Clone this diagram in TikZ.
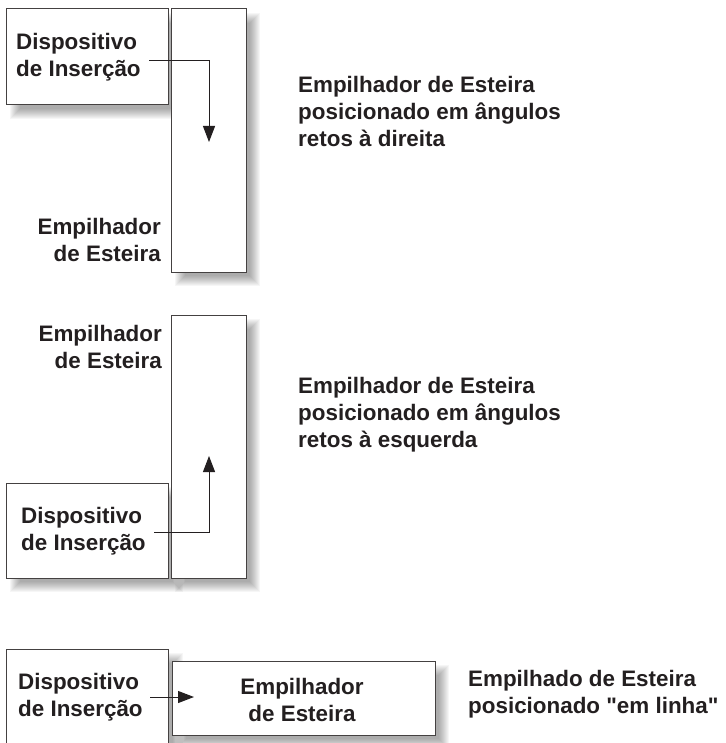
\documentclass[tikz,border=0pt]{standalone}
\usepackage{fontspec}
\newfontfamily\lblfont{Liberation Sans}
\usetikzlibrary{arrows.meta}
\definecolor{ink}{HTML}{231F20}
\newcommand{\softshadow}[4]{%
  \foreach \e in {5,4,3,2,1,0,-1,-2,-3,-4,-5}{%
    \fill[black,opacity=0.036] (#1+9-\e,#2+9-\e) rectangle (#3+9+\e,#4+9+\e);}}
\tikzset{
  boxnode/.style={draw=ink!85,line width=1pt,fill=white,anchor=north west,inner sep=0pt,outer sep=0pt},
  lbl/.style={text=ink,inner sep=0pt,font=\lblfont\fontsize{22.4}{27}\selectfont\bfseries},
  lblL/.style={lbl,align=left,anchor=west},
  lblR/.style={lbl,align=right,anchor=east},
  lblC/.style={lbl,align=center,anchor=center},
  conn/.style={draw=ink,line width=1pt,-{Triangle[length=16pt,width=12pt]}}
}
\begin{document}
\begin{tikzpicture}[x=1pt,y=-1pt]
\clip (0,0) rectangle (725,743);
\useasboundingbox (0,0) rectangle (725,743);
% shadows
\softshadow{6}{9}{169}{105}
\softshadow{171}{9}{246}{272}
\softshadow{171}{315}{246}{578}
\softshadow{6}{483}{169}{578}
\softshadow{6}{649}{169}{770}
\softshadow{172}{661}{435}{735}
% group 1
\node[boxnode,minimum width=162.5pt,minimum height=96pt] (d1) at (6.3,9) {};
\node[boxnode,minimum width=74.5pt,minimum height=263pt] (s1) at (171.5,9) {};
\node[lblL] (d1t) at (16,57.5) {Dispositivo\\de Inserção};
\node[lblR] (s1l) at (161,239.5) {Empilhador\\de Esteira};
\node[lblL] (c1) at (298,111) {Empilhador de Esteira\\posicionado em ângulos\\retos à direita};
\coordinate (a1s) at (149,61);
\coordinate (a1e) at (209,142);
\draw[conn] (a1s) -| (a1e);
% group 2
\node[boxnode,minimum width=74.5pt,minimum height=263pt] (s2) at (171.5,315) {};
\node[boxnode,minimum width=162.5pt,minimum height=95pt] (d2) at (6.3,483) {};
\node[lblR] (s2l) at (162,346.5) {Empilhador\\de Esteira};
\node[lblL] (d2t) at (21,531.5) {Dispositivo\\de Inserção};
\node[lblL] (c2) at (298,415) {Empilhador de Esteira\\posicionado em ângulos\\retos à esquerda};
\coordinate (a2s) at (154,532.5);
\coordinate (a2e) at (209,456);
\draw[conn] (a2s) -| (a2e);
% group 3
\node[boxnode,minimum width=162.5pt,minimum height=121pt] (d3) at (6.3,649) {};
\node[boxnode,minimum width=263pt,minimum height=74pt] (s3) at (172,661) {};
\node[lblL] (d3t) at (18,697.5) {Dispositivo\\de Inserção};
\node[lblC] (s3l) at (302,699.5) {Empilhador\\de Esteira};
\node[lblL] (c3) at (468,694) {Empilhado de Esteira\\posicionado "em linha"};
\coordinate (a3s) at (150,697);
\coordinate (a3e) at (194,697);
\draw[conn] (a3s) -- (a3e);
\end{tikzpicture}
\end{document}
